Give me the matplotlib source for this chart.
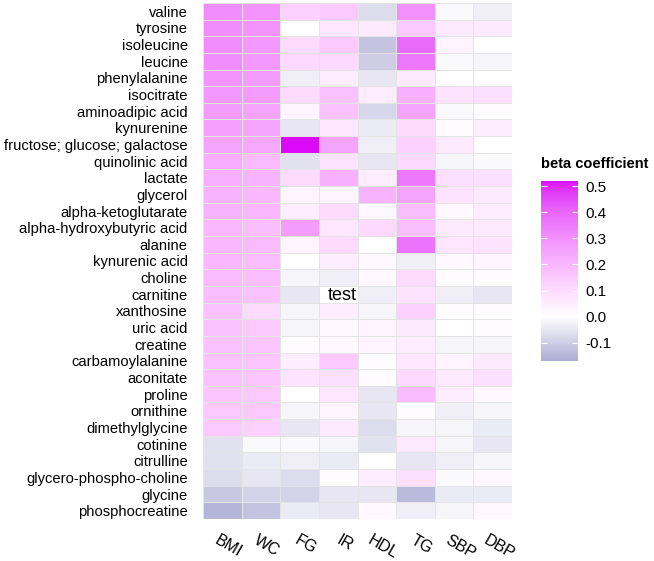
import numpy as np
import matplotlib
matplotlib.use("Agg")
import matplotlib.pyplot as plt
import matplotlib.transforms as mtrans
from matplotlib.colors import ListedColormap

plt.rcParams['font.family'] = ['Liberation Sans', 'DejaVu Sans']

metabolites = ["valine", "tyrosine", "isoleucine", "leucine", "phenylalanine",
               "isocitrate", "aminoadipic acid", "kynurenine",
               "fructose; glucose; galactose", "quinolinic acid", "lactate",
               "glycerol", "alpha-ketoglutarate", "alpha-hydroxybutyric acid",
               "alanine", "kynurenic acid", "choline", "carnitine", "xanthosine",
               "uric acid", "creatine", "carbamoylalanine", "aconitate", "proline",
               "ornithine", "dimethylglycine", "cotinine", "citrulline",
               "glycero-phospho-choline", "glycine", "phosphocreatine"]
traits = ["BMI", "WC", "FG", "IR", "HDL", "TG", "SBP", "DBP"]

# beta coefficients, one list per trait (rows in metabolite order)
BMI = [0.31, 0.31, 0.31, 0.31, 0.29, 0.28, 0.27, 0.26, 0.25, 0.23, 0.22, 0.21, 0.21, 0.20, 0.20, 0.20,
       0.19, 0.18, 0.17, 0.17, 0.17, 0.17, 0.17, 0.16, 0.15, 0.15, -0.06, -0.06, -0.07, -0.11, -0.15]
WC = [0.29, 0.29, 0.28, 0.28, 0.27, 0.27, 0.25, 0.25, 0.24, 0.19, 0.21, 0.20, 0.20, 0.18, 0.19, 0.18,
      0.18, 0.17, 0.10, 0.15, 0.16, 0.16, 0.16, 0.15, 0.15, 0.13, -0.01, -0.04, -0.05, -0.09, -0.12]
FG = [0.13, 0.00, 0.10, 0.11, -0.03, 0.10, 0.03, -0.05, 0.52, -0.06, 0.10, 0.03, 0.05, 0.27, 0.03, 0.00,
      -0.02, -0.05, -0.02, -0.02, 0.01, 0.05, 0.08, 0.00, -0.02, -0.05, -0.01, -0.03, -0.07, -0.09, -0.04]
IR = [0.15, 0.07, 0.15, 0.11, 0.05, 0.17, 0.17, 0.07, 0.25, 0.08, 0.22, 0.03, 0.10, 0.07, 0.10, 0.05,
      -0.03, 0.00, 0.05, 0.02, 0.02, 0.15, 0.09, 0.07, 0.03, 0.06, -0.02, -0.04, 0.01, -0.05, -0.05]
HDL = [-0.07, 0.06, -0.12, -0.10, -0.05, 0.05, -0.08, -0.04, -0.03, -0.05, 0.05, 0.21, 0.02, 0.11, 0.00, 0.02,
       0.02, -0.03, -0.02, 0.03, 0.03, 0.01, 0.01, -0.05, -0.05, -0.07, -0.06, 0.00, 0.05, -0.05, 0.02]
TG = [0.30, 0.15, 0.39, 0.36, 0.06, 0.22, 0.25, 0.10, 0.13, 0.11, 0.36, 0.25, 0.18, 0.18, 0.37, -0.03,
      0.10, 0.08, 0.13, 0.06, 0.05, 0.07, 0.11, 0.19, 0.01, -0.02, 0.06, -0.05, 0.09, -0.14, -0.03]
SBP = [-0.01, 0.06, 0.03, -0.01, 0.00, 0.08, -0.01, 0.01, 0.06, -0.02, 0.09, 0.08, 0.02, 0.06, 0.07, 0.02,
       0.01, -0.03, 0.01, 0.00, -0.02, 0.03, 0.06, 0.05, -0.03, -0.02, -0.02, -0.03, -0.01, -0.04, -0.02]
DBP = [-0.03, 0.06, 0.00, -0.02, 0.00, 0.09, 0.01, 0.05, 0.00, -0.01, 0.09, 0.06, 0.05, 0.06, 0.08, 0.03,
       0.01, -0.05, 0.01, 0.01, -0.02, 0.06, 0.09, 0.02, -0.02, -0.04, -0.05, -0.02, 0.02, -0.04, 0.02]

cb_ticks = [-0.1, 0.0, 0.1, 0.2, 0.3, 0.4, 0.5]


# --- Lab interpolation (like ggplot's gradient2) ---
def srgb2lab(c):
    c = np.asarray(c, float)
    lin = np.where(c > 0.04045, ((c + 0.055) / 1.055) ** 2.4, c / 12.92)
    M = np.array([[0.4124, 0.3576, 0.1805], [0.2126, 0.7152, 0.0722], [0.0193, 0.1192, 0.9505]])
    xyz = M @ lin / np.array([0.95047, 1.0, 1.08883])
    f = np.where(xyz > 0.008856, np.cbrt(xyz), 7.787 * xyz + 16 / 116)
    return np.array([116 * f[1] - 16, 500 * (f[0] - f[1]), 200 * (f[1] - f[2])])


def lab2srgb(lab):
    L, a, b = lab
    fy = (L + 16) / 116
    fx = fy + a / 500
    fz = fy - b / 200
    f = np.array([fx, fy, fz])
    xyz = np.where(f ** 3 > 0.008856, f ** 3, (f - 16 / 116) / 7.787) * np.array([0.95047, 1.0, 1.08883])
    Minv = np.array([[3.2406, -1.5372, -0.4986], [-0.9689, 1.8758, 0.0415], [0.0557, -0.2040, 1.0570]])
    lin = np.clip(Minv @ xyz, 0, 1)
    return np.clip(np.where(lin > 0.0031308, 1.055 * lin ** (1 / 2.4) - 0.055, 12.92 * lin), 0, 1)


vmin, vmax = -0.17, 0.52
low = srgb2lab(np.array([172, 172, 212]) / 255)
white = srgb2lab([1, 1, 1])
high = srgb2lab(np.array([220, 8, 248]) / 255)
cols = []
for v in np.linspace(vmin, vmax, 512):
    if v < 0:
        t = v / vmin
        cols.append(lab2srgb(white + t * (low - white)))
    else:
        t = v / vmax
        cols.append(lab2srgb(white + t * (high - white)))
cmap = ListedColormap(cols)

vals = np.array([BMI, WC, FG, IR, HDL, TG, SBP, DBP]).T

fig = plt.figure(figsize=(6.54, 5.61), dpi=100)
ax = fig.add_axes([0.3104, 0.0749, 0.4725, 0.9198])
mesh = ax.pcolormesh(vals, cmap=cmap, vmin=vmin, vmax=vmax, edgecolors='#e4e4e4', linewidth=0.5)
ax.set_xlim(0, len(traits))
ax.set_ylim(len(metabolites), 0)
ax.set_yticks(np.arange(len(metabolites)) + 0.5)
ax.set_yticklabels(metabolites, fontsize=10.6)
ax.set_xticks(np.arange(len(traits)) + 0.5)
ax.set_xticklabels(traits, fontsize=11.5, rotation=-30, ha='center', va='top')
ax.tick_params(length=0)
ax.tick_params(axis='y', pad=11)
ax.tick_params(axis='x', pad=10)
shift = mtrans.ScaledTranslation(0.06, 0, fig.dpi_scale_trans)
for lab in ax.get_xticklabels():
    lab.set_transform(lab.get_transform() + shift)
for s in ax.spines.values():
    s.set_visible(False)

ax.text(3.6, 17.55, "test", fontsize=13, ha='center', va='center')

cax = fig.add_axes([0.827, 0.3565, 0.057, 0.321])
cb = fig.colorbar(mesh, cax=cax, ticks=cb_ticks)
cb.outline.set_visible(False)
cb.ax.set_yticklabels(["-0.1", "0.0", "0.1", "0.2", "0.3", "0.4", "0.5"], fontsize=11)
cb.ax.tick_params(direction='in', color='white', length=4, width=0.8, left=True, right=True, pad=5)
fig.text(0.827, 0.695, "beta coefficient", fontsize=10.5, fontweight='bold', ha='left', va='bottom')

fig.savefig("out.png", dpi=100)
